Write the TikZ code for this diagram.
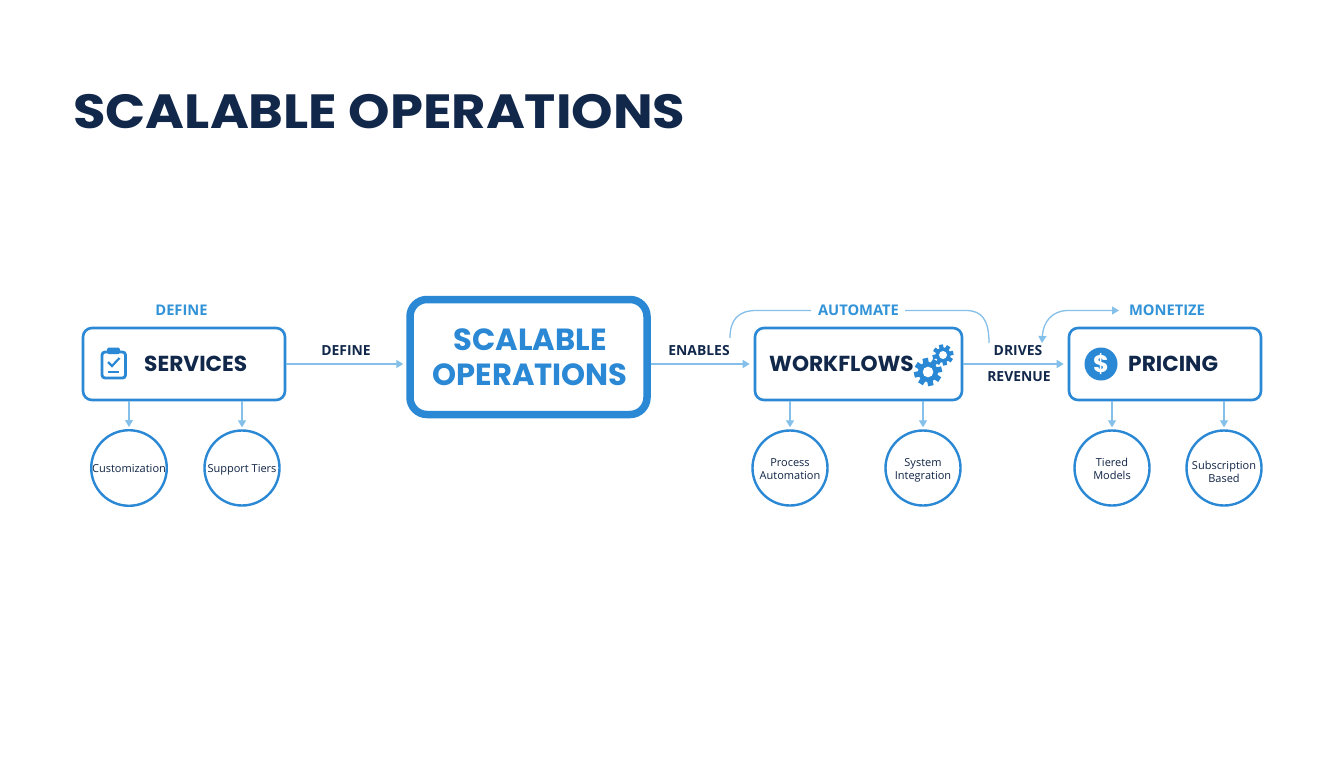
\documentclass[tikz,border=0pt]{standalone}
\usepackage{fontspec}
\setmainfont{Poppins}
\newfontfamily\osans{Open Sans}
\usetikzlibrary{arrows.meta}
\definecolor{navy}{HTML}{12284B}
\definecolor{bluemain}{HTML}{2A88D4}
\definecolor{bluelight}{HTML}{84C0E9}
\definecolor{labelblue}{HTML}{3293D8}
\newcommand{\gearicon}[3]{%
  \fill[bluemain] (#1,#2) circle[radius=#3*0.72];
  \foreach \a in {0,45,...,315}{
    \fill[bluemain,shift={(#1,#2)},rotate=\a+12] (-#3*0.2,0) rectangle (#3*0.2,#3);
  }
  \fill[white] (#1,#2) circle[radius=#3*0.38];
}
\tikzset{
  x=1pt,y=-1pt,
  mainbox/.style={draw=bluemain,line width=2.6pt,rounded corners=9pt,fill=white,inner sep=0pt},
  leaf/.style={draw=bluemain,line width=2.4pt,circle,minimum size=75pt,inner sep=0pt,fill=white,align=center,
    font=\osans\fontsize{11}{13.4}\selectfont,text=navy!90!black},
  boxtext/.style={font=\fontsize{21.7}{24}\selectfont\bfseries,text=navy,inner sep=0pt},
  arrowlbl/.style={font=\osans\bfseries\fontsize{13.9}{16}\selectfont,text=navy,inner sep=0pt},
  toplbl/.style={font=\osans\bfseries\fontsize{14.7}{18}\selectfont,text=labelblue,inner sep=0pt},
  link/.style={draw=bluelight,line width=1.3pt,-{Triangle[length=7pt,width=8pt]}},
  curve/.style={draw=bluelight,line width=1.3pt},
}
\begin{document}
\begin{tikzpicture}
\useasboundingbox (0,0) rectangle (1344,768);
\fill[white] (0,0) rectangle (1344,768);
% title
\node[anchor=west,inner sep=0pt,text=navy] (title) at (73,111.5) {\fontsize{48}{56}\selectfont\bfseries\addfontfeatures{FakeStretch=1.1}SCALABLE OPERATIONS};
% boxes
\node[mainbox,minimum width=202pt,minimum height=72pt] (services) at (184,364) {};
\node[draw=bluemain,line width=7.5pt,rounded corners=17pt,fill=white,minimum width=237pt,minimum height=115pt,inner sep=0pt,align=center,
  font=\fontsize{30.6}{35}\selectfont\bfseries,text=bluemain] (core) at (528.5,357) {\hspace*{3pt}SCALABLE\\\hspace*{3pt}OPERATIONS};
\node[mainbox,minimum width=207pt,minimum height=72pt] (workflows) at (858.5,364) {};
\node[mainbox,minimum width=192pt,minimum height=72pt] (pricing) at (1165,364) {};
% box labels
\node[boxtext,anchor=west] (servicestxt) at (144,363.5) {SERVICES};
\node[boxtext,anchor=west] (workflowstxt) at (769,363.5) {WORKFLOWS};
\node[boxtext,anchor=west] (pricingtxt) at (1128,363.5) {PRICING};
% leaf nodes
\node[leaf] (custom) at (129,468) {\rule{0pt}{13.4pt}Customization\strut};
\node[leaf] (support) at (242,468) {\rule{0pt}{13.4pt}Support Tiers\strut};
\node[leaf] (process) at (790,468) {\rule{0pt}{14.4pt}Process\\\strut Automation};
\node[leaf] (system) at (923,468) {\rule{0pt}{14.4pt}System\\\strut Integration};
\node[leaf] (tiered) at (1112,468) {\rule{0pt}{14.4pt}Tiered\\\strut Models};
\node[leaf] (subscr) at (1224,468) {\rule{0pt}{20.4pt}Subscription\\\strut Based};
% main connectors
\draw[link,shorten >=3pt] (services.east) -- (core.west |- services.east);
\draw[link,shorten >=4pt] (core.east |- workflows.west) -- (workflows.west);
\draw[link,shorten >=4pt] (workflows.east) -- (pricing.west);
% down connectors
\draw[link,shorten >=2pt] (services.south -| custom.north) -- (custom.north);
\draw[link,shorten >=2pt] (services.south -| support.north) -- (support.north);
\draw[link,shorten >=2pt] (workflows.south -| process.north) -- (process.north);
\draw[link,shorten >=2pt] (workflows.south -| system.north) -- (system.north);
\draw[link,shorten >=2pt] (pricing.south -| tiered.north) -- (tiered.north);
\draw[link,shorten >=2pt] (pricing.south -| subscr.north) -- (subscr.north);
% labels
\node[toplbl] (deftop) at (181.5,310) {DEFINE};
\node[arrowlbl] (defl) at (346,350.5) {DEFINE};
\node[arrowlbl] (enl) at (699,350.5) {ENABLES};
\node[arrowlbl] (drl) at (1018,351) {DRIVES};
\node[arrowlbl] (revl) at (1019,376.5) {REVENUE};
\node[toplbl] (autol) at (858.5,310) {AUTOMATE};
\node[toplbl] (monl) at (1167,310) {MONETIZE};
% curved connectors
\coordinate (a1) at (730,338);
\coordinate (a2) at (989,343);
\coordinate (m1) at (1042,343);
\coordinate (m2) at (1119,310.5);
\draw[curve] (a1) .. controls (730,320) and (738,310.5) .. (756,310.5) -- (811,310.5);
\draw[curve] (905,310.5) -- (966,310.5) .. controls (982,310.5) and (989,320) .. (a2);
\draw[curve,{Triangle[length=7pt,width=8pt]}-{Triangle[length=7pt,width=8pt]}] (m1) .. controls (1043,322) and (1052,310.5) .. (1068,310.5) -- (m2);
% clipboard icon
\draw[bluemain,line width=2.8pt,rounded corners=3pt] (102,352) rectangle (125.5,378);
\fill[bluemain,rounded corners=1.5pt] (107,347.5) rectangle (120,354);
\draw[bluemain,line width=2.2pt] (108,362) -- (112,366) -- (119.5,358);
\draw[bluemain,line width=2.2pt] (108,372) -- (119,372);
% gears
\gearicon{943}{355}{10.5}
\gearicon{928}{372}{14}
% dollar
\node[circle,fill=bluemain,minimum size=33pt,inner sep=0pt,text=white,font=\fontsize{24}{26}\selectfont\bfseries] (dollar) at (1101,364) {\$};
\end{tikzpicture}
\end{document}
